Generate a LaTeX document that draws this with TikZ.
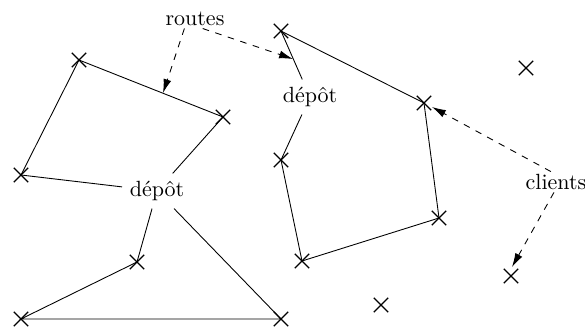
\documentclass[tikz,border=0pt]{standalone}
\usetikzlibrary{shapes.misc,arrows.meta}
\begin{document}
\begin{tikzpicture}[x=0.4545pt,y=-0.4545pt,
  client/.style={cross out,draw,minimum size=6pt,inner sep=0pt,line width=0.5pt},
  route/.style={line width=0.4pt},
  pointer/.style={dashed,line width=0.4pt,-{Latex[length=6.3pt,width=3.6pt]}},
  depot/.style={inner sep=0.333em},
  lbl/.style={inner sep=1pt}]
\useasboundingbox (0,0) rectangle (585,329);
% clients
\node[client] (a1) at (79,60) {};
\node[client] (a2) at (223,117) {};
\node[client] (a3) at (21,175) {};
\node[client] (b1) at (137,262) {};
\node[client] (b2) at (21,319) {};
\node[client] (b3) at (281,319) {};
\node[client] (c1) at (281,31) {};
\node[client] (c2) at (424,103) {};
\node[client] (c3) at (439,218) {};
\node[client] (c4) at (302,261) {};
\node[client] (c5) at (281,160) {};
\node[client] (i1) at (526,68) {};
\node[client] (i2) at (511,276) {};
\node[client] (i3) at (381,305) {};
% depots
\node[depot] (d1) at (157,191) {dépôt};
\node[depot] (d2) at (310,97) {dépôt};
% labels
\node[lbl] (routes) at (195,19) {routes};
\node[lbl] (clients) at (556,182) {clients};
% routes
\draw[route] (d1) -- (a2.center) -- (a1.center) -- (a3.center) -- (d1);
\draw[route] (d1) -- (b1.center) -- (b2.center) -- (b3.center) -- (d1);
\draw[route] (d2) -- (c1.center) -- (c2.center) -- (c3.center) -- (c4.center) -- (c5.center) -- (d2);
% pointers
\coordinate (t1) at (163,93);
\coordinate (t2) at (293,59);
\coordinate (t3) at (432,107);
\coordinate (t4) at (512,267);
\draw[pointer] (routes.222) -- (t1);
\draw[pointer] (routes.309) -- (t2);
\draw[pointer] (clients.116) -- (t3);
\draw[pointer] (clients.259) -- (t4);
\end{tikzpicture}
\end{document}
